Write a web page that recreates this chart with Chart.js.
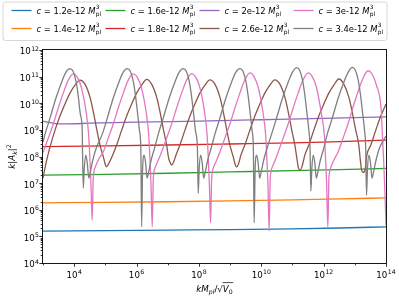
<!DOCTYPE html>
<html><head><meta charset="utf-8">
<script src="https://cdn.jsdelivr.net/npm/chart.js@4"></script>
<style>html,body{margin:0;padding:0;background:#fff;overflow:hidden}#wrap{width:399px;height:299px;position:relative}</style>
</head><body><div id="wrap"><canvas id="c" width="399" height="299"></canvas></div>
<script>
// ---- data (log10 values) ----
const cValues = ['1.2e-12','1.4e-12','1.6e-12','1.8e-12','2e-12','2.6e-12','3e-12','3.4e-12'];
const xTickExps = [4,6,8,10,12,14];
const yTickExps = [4,5,6,7,8,9,10,11,12];

const flatLogK = [3, 5, 7, 9, 11, 12.5, 14];
const blueLogY = [5.195, 5.215, 5.235, 5.255, 5.285, 5.315, 5.357];
const orangeLogY = [6.260, 6.278, 6.300, 6.330, 6.370, 6.405, 6.447];
const greenLogY = [7.300, 7.330, 7.370, 7.420, 7.470, 7.510, 7.553];
const redLogY = [8.372, 8.400, 8.432, 8.470, 8.510, 8.560, 8.617];
const purpleLogK = [3, 3.2, 3.5, 3.8, 4.5, 6, 8, 10, 12, 14];
const purpleLogY = [9.332, 9.28, 9.225, 9.225, 9.25, 9.29, 9.332, 9.38, 9.43, 9.49];

const brownLogK = [3.000, 3.096, 3.224, 3.385, 3.545, 3.705, 3.865, 4.026, 4.186, 4.346, 4.507, 4.603, 4.721, 4.827, 4.946, 4.994, 5.042, 5.106,
5.234, 5.362, 5.523, 5.683, 5.843, 6.003, 6.164, 6.324, 6.484, 6.645, 6.741, 6.859, 6.965, 7.029, 7.077, 7.125, 7.189,
7.263, 7.391, 7.552, 7.712, 7.872, 8.032, 8.193, 8.353, 8.513, 8.674, 8.770, 8.888, 8.994, 9.112, 9.160, 9.208, 9.272,
9.346, 9.474, 9.635, 9.795, 9.955, 10.115, 10.276, 10.436, 10.596, 10.757, 10.853, 10.971, 11.077, 11.141, 11.189, 11.237, 11.301,
11.397, 11.525, 11.686, 11.846, 12.006, 12.166, 12.327, 12.487, 12.647, 12.808, 12.904, 13.022, 13.128, 13.170, 13.218, 13.266, 13.330,
13.385, 13.513, 13.673, 13.833, 14.000];
const brownLogY = [7.19, 7.75, 8.35, 8.99, 9.52, 9.97, 10.38, 10.68, 10.87, 10.72, 10.23, 9.74, 9.03, 8.43, 7.94, 7.71, 7.61, 7.73,
8.05, 8.43, 8.99, 9.52, 9.97, 10.38, 10.68, 10.90, 10.72, 10.23, 9.74, 9.03, 8.43, 7.94, 7.77, 7.68, 7.79,
8.05, 8.43, 8.99, 9.52, 9.97, 10.38, 10.68, 10.88, 10.72, 10.23, 9.74, 9.03, 8.43, 7.94, 7.71, 7.61, 7.73,
8.05, 8.43, 8.99, 9.52, 9.97, 10.38, 10.68, 10.88, 10.72, 10.23, 9.74, 9.03, 8.43, 7.94, 7.58, 7.49, 7.60,
8.05, 8.43, 8.99, 9.52, 9.97, 10.38, 10.68, 10.91, 10.72, 10.23, 9.74, 9.03, 8.43, 7.94, 7.50, 7.40, 7.52,
8.05, 8.43, 8.99, 9.52, 9.97];

const pinkLogK = [3.000, 3.170, 3.330, 3.490, 3.650, 3.811, 3.971, 4.099, 4.237, 4.397, 4.465, 4.506, 4.539, 4.577, 4.609, 4.631, 4.689, 4.769,
4.932, 5.093, 5.253, 5.413, 5.573, 5.734, 5.894, 6.022, 6.160, 6.320, 6.391, 6.432, 6.465, 6.503, 6.535, 6.557, 6.615, 6.695,
6.804, 6.965, 7.125, 7.285, 7.445, 7.606, 7.766, 7.894, 8.032, 8.192, 8.263, 8.304, 8.337, 8.375, 8.407, 8.429, 8.487, 8.567,
8.673, 8.834, 8.994, 9.154, 9.314, 9.475, 9.635, 9.763, 9.901, 10.061, 10.141, 10.182, 10.215, 10.253, 10.285, 10.307, 10.365, 10.445,
10.541, 10.702, 10.862, 11.022, 11.182, 11.343, 11.503, 11.631, 11.769, 11.929, 12.023, 12.064, 12.097, 12.135, 12.167, 12.189, 12.247, 12.327,
12.464, 12.625, 12.785, 12.945, 13.105, 13.266, 13.426, 13.554, 13.692, 13.852, 13.882, 13.923, 13.956, 14.000];
const pinkLogY = [8.15, 8.69, 9.22, 9.82, 10.38, 10.87, 11.10, 10.98, 10.57, 9.57, 8.80, 7.86, 6.92, 5.61, 7.11, 7.41, 7.64, 7.86,
8.17, 8.69, 9.22, 9.82, 10.38, 10.87, 11.10, 10.98, 10.57, 9.57, 8.80, 7.86, 6.92, 5.36, 7.11, 7.41, 7.64, 7.86,
8.17, 8.69, 9.22, 9.82, 10.38, 10.87, 11.11, 10.99, 10.58, 9.58, 8.80, 7.86, 6.92, 5.51, 7.11, 7.41, 7.64, 7.86,
8.17, 8.69, 9.22, 9.82, 10.38, 10.88, 11.14, 11.01, 10.60, 9.60, 8.80, 7.86, 6.92, 5.20, 7.11, 7.41, 7.64, 7.86,
8.17, 8.69, 9.22, 9.82, 10.38, 10.88, 11.14, 11.01, 10.60, 9.60, 8.80, 7.86, 6.92, 5.32, 7.11, 7.41, 7.64, 7.86,
8.17, 8.70, 9.24, 9.86, 10.44, 10.95, 11.22, 11.10, 10.68, 9.66, 8.85, 7.90, 6.95, 5.42];

const grayLogK = [3.000, 3.064, 3.224, 3.416, 3.609, 3.737, 3.865, 3.961, 4.057, 4.131, 4.202, 4.259, 4.266, 4.292, 4.324, 4.372, 4.420, 4.468, 4.516, 4.596, 4.709,
4.901, 5.061, 5.253, 5.446, 5.574, 5.702, 5.798, 5.894, 5.968, 6.039, 6.096, 6.137, 6.163, 6.195, 6.243, 6.291, 6.339, 6.387, 6.467, 6.580,
6.696, 6.856, 7.048, 7.241, 7.369, 7.497, 7.593, 7.689, 7.763, 7.834, 7.891, 7.952, 7.978, 8.010, 8.058, 8.106, 8.154, 8.202, 8.282, 8.395,
8.513, 8.673, 8.865, 9.058, 9.186, 9.314, 9.410, 9.506, 9.580, 9.651, 9.708, 9.746, 9.772, 9.804, 9.852, 9.900, 9.948, 9.996, 10.076, 10.189,
10.330, 10.490, 10.682, 10.875, 11.003, 11.131, 11.227, 11.323, 11.397, 11.468, 11.525, 11.564, 11.590, 11.622, 11.670, 11.718, 11.766, 11.814, 11.894, 12.007,
12.116, 12.276, 12.468, 12.661, 12.789, 12.917, 13.013, 13.109, 13.183, 13.254, 13.311, 13.349, 13.375, 13.407, 13.455, 13.503, 13.551, 13.599, 13.679, 13.792, 14.000];
const grayLogY = [8.54, 8.84, 9.44, 10.20, 10.83, 11.17, 11.30, 11.21, 10.83, 10.27, 9.56, 8.95, 8.32, 6.81, 7.56, 8.05, 7.75, 7.19, 7.41, 7.86, 8.32,
8.84, 9.44, 10.20, 10.83, 11.17, 11.30, 11.21, 10.83, 10.27, 9.56, 8.95, 8.32, 5.36, 7.56, 8.05, 7.75, 7.19, 7.41, 7.86, 8.32,
8.84, 9.44, 10.20, 10.83, 11.17, 11.30, 11.21, 10.83, 10.27, 9.56, 8.95, 8.32, 6.61, 7.56, 8.05, 7.75, 7.19, 7.41, 7.86, 8.32,
8.84, 9.44, 10.20, 10.83, 11.17, 11.30, 11.21, 10.83, 10.27, 9.56, 8.95, 8.32, 5.51, 7.56, 8.05, 7.75, 7.19, 7.41, 7.86, 8.32,
8.84, 9.44, 10.20, 10.83, 11.17, 11.34, 11.25, 10.87, 10.31, 9.59, 8.99, 8.32, 6.70, 7.56, 8.05, 7.75, 7.19, 7.41, 7.86, 8.32,
8.84, 9.44, 10.20, 10.83, 11.17, 11.35, 11.25, 10.87, 10.31, 9.59, 8.99, 8.32, 6.55, 7.56, 8.05, 7.75, 7.19, 7.41, 7.86, 8.32, 8.77];

// ---- styles ----
const colors = ['#1f77b4','#ff7f0e','#2ca02c','#d62728','#9467bd','#8c564b','#e377c2','#7f7f7f'];

// ---- build datasets ----
const seriesK = [flatLogK, flatLogK, flatLogK, flatLogK, purpleLogK, brownLogK, pinkLogK, grayLogK];
const seriesY = [blueLogY, orangeLogY, greenLogY, redLogY, purpleLogY, brownLogY, pinkLogY, grayLogY];
const datasets = cValues.map((cv, i) => ({
  label: 'c = ' + cv + ' M_pl^3',
  data: seriesK[i].map((lk, j) => ({x: Math.pow(10, lk), y: Math.pow(10, seriesY[i][j])})),
  borderColor: colors[i],
  backgroundColor: colors[i],
  borderWidth: 1.3,
  pointRadius: 0,
  fill: false,
  cubicInterpolationMode: 'monotone',
  order: cValues.length - 1 - i
}));

const FAM = '"DejaVu Sans"';
function fnt(sz, it){ return (it ? 'italic ' : '') + sz + 'px ' + FAM; }
function segWidth(ctx, segs){
  let w = 0;
  for (const s of segs){ ctx.font = fnt(s.sz, s.it); const ww = ctx.measureText(s.t).width; if (!s.noAdv) w += ww + (s.pad || 0); }
  return w;
}
function drawSegs(ctx, segs, x, y){
  let cx = x; const pos = [];
  for (const s of segs){
    ctx.font = fnt(s.sz, s.it);
    pos.push(cx);
    ctx.fillText(s.t, cx + (s.off || 0), y + (s.dy || 0));
    const ww = ctx.measureText(s.t).width;
    if (!s.noAdv) cx += ww + (s.pad || 0);
  }
  pos.push(cx);
  return pos;
}

const TS = 8.66, SS = 6.2;
function powSegs(n){ return [{t:'10', sz:TS, pad:0.4}, {t:String(n), sz:SS, dy:-3.8}]; }

const deco = {
  id: 'deco',
  afterDraw(chart){
    const ctx = chart.ctx, ca = chart.chartArea, xs = chart.scales.x, ys = chart.scales.y;
    ctx.save();
    ctx.fillStyle = '#000'; ctx.strokeStyle = '#000';
    ctx.textBaseline = 'alphabetic'; ctx.textAlign = 'left';
    // frame
    ctx.lineWidth = 0.9;
    const L = Math.round(ca.left) - 0.5, R = Math.round(ca.right) + 0.5, T = Math.round(ca.top) - 0.5, B = Math.round(ca.bottom) + 0.5;
    ctx.strokeRect(L, T, R - L, B - T);
    // y ticks
    ctx.lineWidth = 0.8;
    ctx.beginPath();
    for (let n = 4; n <= 12; n++){
      const py = Math.round(ys.getPixelForValue(Math.pow(10, n))) + 0.5;
      ctx.moveTo(L, py); ctx.lineTo(L - 3.2, py);
      if (n < 12) for (let m = 2; m <= 9; m++){
        const q = Math.round(ys.getPixelForValue(m * Math.pow(10, n))) + 0.5;
        ctx.moveTo(L, q); ctx.lineTo(L - 1.8, q);
      }
    }
    // x ticks
    for (let n = 3; n <= 14; n++){
      const px = Math.round(xs.getPixelForValue(Math.pow(10, n))) + 0.5;
      const major = xTickExps.includes(n);
      ctx.moveTo(px, B); ctx.lineTo(px, B + (major ? 3.2 : 1.8));
    }
    ctx.stroke();
    // y tick labels
    for (const n of yTickExps){
      const py = ys.getPixelForValue(Math.pow(10, n));
      const segs = powSegs(n);
      const w = segWidth(ctx, segs);
      drawSegs(ctx, segs, 39 - w, py + 4.4);
    }
    // x tick labels
    for (const n of xTickExps){
      const px = xs.getPixelForValue(Math.pow(10, n));
      const segs = powSegs(n);
      const w = segWidth(ctx, segs);
      drawSegs(ctx, segs, px - w / 2, 277.5);
    }
    // x title
    const xt = [{t:'k', sz:TS, it:true}, {t:'M', sz:TS, it:true}, {t:'pl', sz:SS, it:true, dy:2.2},
                {t:'/', sz:TS}, {t:'\u221A', sz:TS}, {t:'V', sz:TS, it:true}, {t:'0', sz:SS, dy:2.2}];
    const xw = segWidth(ctx, xt);
    const xcen = (ca.left + ca.right) / 2;
    const pos = drawSegs(ctx, xt, xcen - xw / 2, 291.5);
    ctx.lineWidth = 0.7;
    ctx.beginPath(); ctx.moveTo(pos[5] - 0.3, 291.5 - 8.9); ctx.lineTo(pos[7] + 0.5, 291.5 - 8.9); ctx.stroke();
    // y title
    const yt = [{t:'k', sz:TS, it:true}, {t:'|', sz:TS}, {t:'A', sz:TS, it:true}, {t:'k', sz:SS, it:true, dy:2.2},
                {t:'|', sz:TS}, {t:'2', sz:SS, dy:-4}];
    const yw = segWidth(ctx, yt);
    ctx.save();
    ctx.translate(14.5, (ca.top + ca.bottom) / 2);
    ctx.rotate(-Math.PI / 2);
    drawSegs(ctx, yt, -yw / 2, 0);
    ctx.restore();
    // legend
    const LS = 8.4, LSS = 5.9;
    const bx = 3, by = 2, bw = 384, bh = 38.5, r = 2.5;
    ctx.beginPath();
    ctx.moveTo(bx + r, by); ctx.lineTo(bx + bw - r, by); ctx.arcTo(bx + bw, by, bx + bw, by + r, r);
    ctx.lineTo(bx + bw, by + bh - r); ctx.arcTo(bx + bw, by + bh, bx + bw - r, by + bh, r);
    ctx.lineTo(bx + r, by + bh); ctx.arcTo(bx, by + bh, bx, by + bh - r, r);
    ctx.lineTo(bx, by + r); ctx.arcTo(bx, by, bx + r, by, r); ctx.closePath();
    ctx.fillStyle = 'rgba(255,255,255,0.8)'; ctx.fill();
    ctx.strokeStyle = '#cccccc'; ctx.lineWidth = 0.8; ctx.stroke();
    const colX = [11.5, 105.5, 199.5, 293.5], rowY = [10.5, 28.5];
    cValues.forEach((cv, i) => {
      const col = Math.floor(i / 2), row = i % 2;
      const lx = colX[col], ly = rowY[row];
      ctx.strokeStyle = colors[i]; ctx.lineWidth = 1.3;
      ctx.beginPath(); ctx.moveTo(lx, ly); ctx.lineTo(lx + 20, ly); ctx.stroke();
      ctx.fillStyle = '#000';
      drawSegs(ctx, [{t:'c', sz:LS, it:true}, {t:' = ' + cv + ' ', sz:LS}, {t:'M', sz:LS, it:true, pad:0.3},
                     {t:'3', sz:LSS, dy:-4.6, noAdv:true}, {t:'pl', sz:LSS, dy:2.2}], lx + 25, ly + 3.2);
    });
    ctx.restore();
  }
};

new Chart(document.getElementById('c'), {
  type: 'line',
  data: { datasets },
  options: {
    responsive: false,
    animation: false,
    devicePixelRatio: 1,
    layout: { padding: { left: 43, right: 13, top: 50, bottom: 36 } },
    plugins: { legend: { display: false }, tooltip: { enabled: false } },
    scales: {
      x: { type: 'logarithmic', min: 1e3, max: 1e14, display: false },
      y: { type: 'logarithmic', min: 1e4, max: 1e12, display: false }
    }
  },
  plugins: [deco]
});
</script>
</body></html>
